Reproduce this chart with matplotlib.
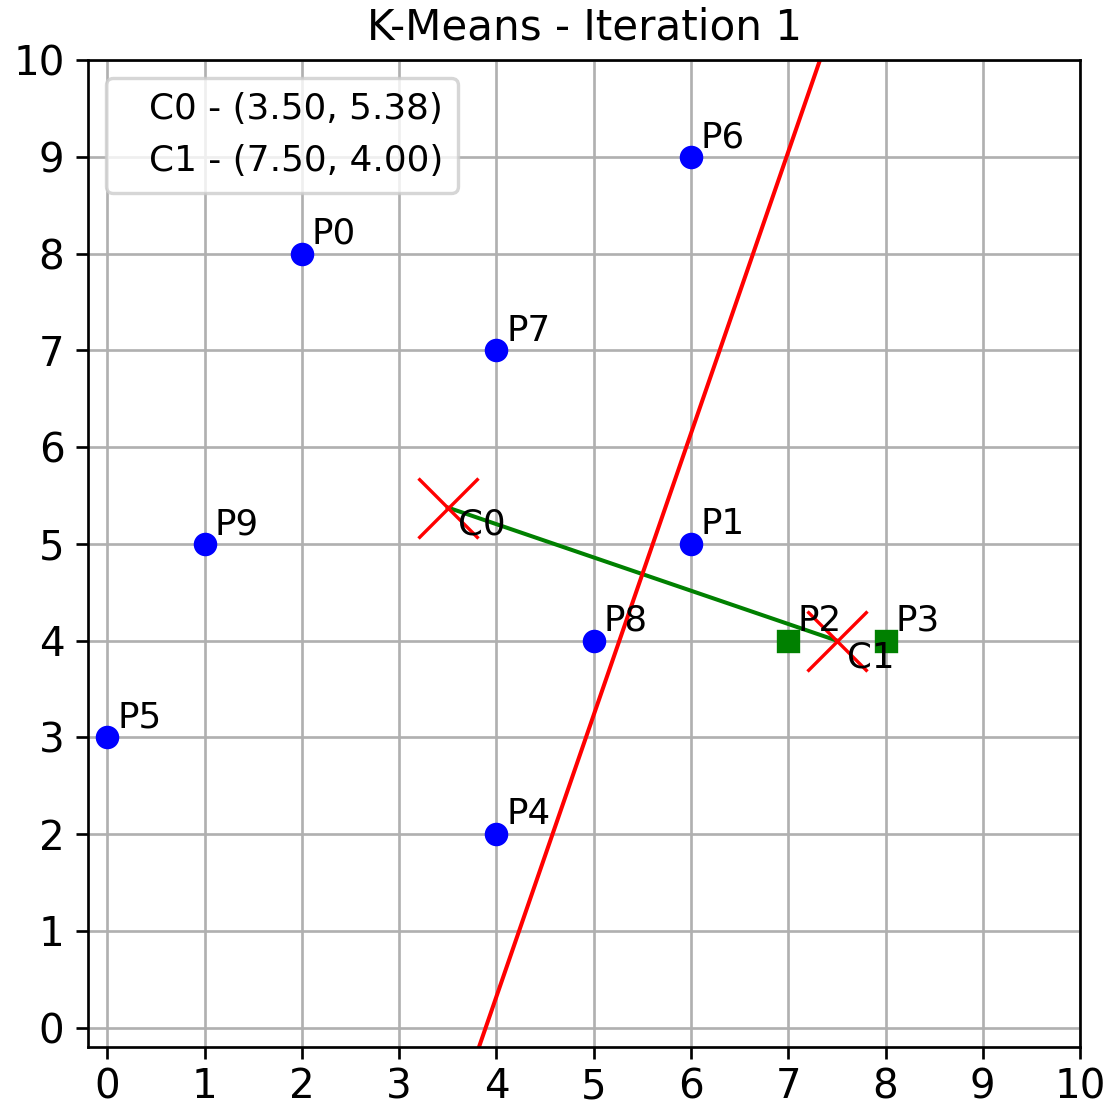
import numpy as np
import matplotlib
matplotlib.use("Agg")
import matplotlib.pyplot as plt

# data points and their cluster assignment
point_names = ["P0", "P1", "P2", "P3", "P4", "P5", "P6", "P7", "P8", "P9"]
point_x = [2, 6, 7, 8, 4, 0, 6, 4, 5, 1]
point_y = [8, 5, 4, 4, 2, 3, 9, 7, 4, 5]
point_cluster = [0, 0, 1, 1, 0, 0, 0, 0, 0, 0]

centroid_names = ["C0", "C1"]
centroid_x = [3.50, 7.50]
centroid_y = [5.375, 4.00]

iteration = 1

DPI = 242
fig = plt.figure(figsize=(1110 / DPI, 1101 / DPI), dpi=DPI)
ax = fig.add_axes([0.0793, 0.0490, 0.8937, 0.8965])

# points
for name, x, y, c in zip(point_names, point_x, point_y, point_cluster):
    if c == 0:
        ax.plot(x, y, "bo", markersize=6)
    else:
        ax.plot(x, y, "gs", markersize=6)
    ax.text(x + 0.1, y + 0.1, name, fontsize=10.6)

# line joining centroids
ax.plot(centroid_x, centroid_y, "g-", linewidth=1.2)

# perpendicular bisector of the two centroids
mx = (centroid_x[0] + centroid_x[1]) / 2
my = (centroid_y[0] + centroid_y[1]) / 2
dx = centroid_x[1] - centroid_x[0]
dy = centroid_y[1] - centroid_y[0]
ys = np.array([-1.0, 11.0])
xs = mx - dy / dx * (ys - my)
ax.plot(xs, ys, "r-", linewidth=1.2)

# centroids
for name, x, y in zip(centroid_names, centroid_x, centroid_y):
    ax.plot(x, y, "rx", markersize=18, markeredgewidth=1)
    ax.text(x + 0.1, y, name, fontsize=10.6, va="top")

# legend entries with no visible handle
for name, x, y in zip(centroid_names, centroid_x, centroid_y):
    ax.plot([], [], " ", label=f"{name} - ({x:.2f}, {y:.2f})")
ax.legend(loc="upper left", handlelength=0, fontsize=10.7)

ax.set_xlim(-0.2, 10)
ax.set_ylim(-0.2, 10)
ax.set_xticks(range(0, 11))
ax.set_yticks(range(0, 11))
ax.tick_params(labelsize=12)
ax.tick_params(axis="x", pad=2.5)
ax.grid(True)
ax.set_title(f"K-Means - Iteration {iteration}", fontsize=12.5)

fig.savefig("out.png", dpi=DPI)
